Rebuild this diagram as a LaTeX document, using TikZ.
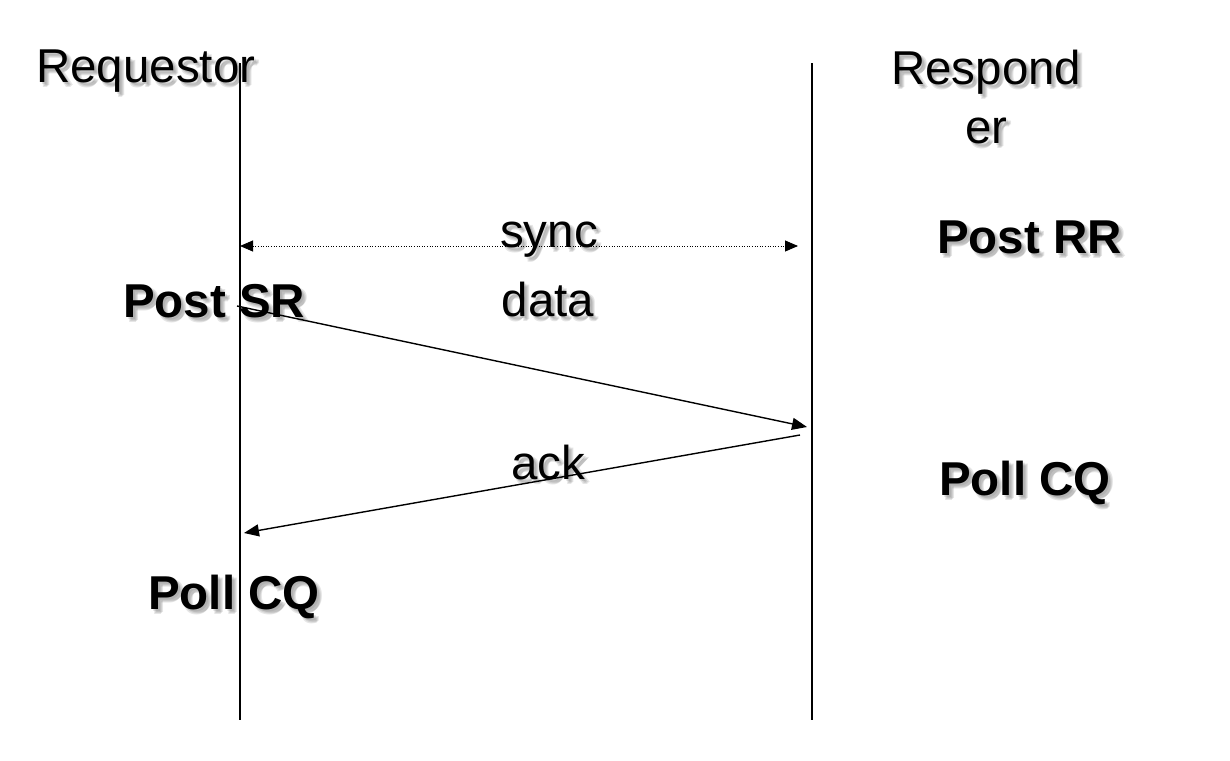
\documentclass[tikz,border=0pt]{standalone}
\usepackage{fontspec}
\setmainfont{Liberation Sans}
\usetikzlibrary{arrows.meta,calc}
\tikzset{
  lbl/.style={anchor=base west,inner sep=0pt,font=\fontsize{47.5}{50}\selectfont},
  lblc/.style={anchor=base,inner sep=0pt,font=\fontsize{47.5}{50}\selectfont},
  bold/.style={font=\fontsize{47.5}{50}\selectfont\bfseries},
  shadowtxt/.style={text=black!55,text opacity=0.18},
  lifeline/.style={line width=1.3pt,black},
  msg/.style={line width=1.4pt,-{Triangle[length=15pt,width=12pt]}},
  syncmsg/.style={line width=0.9pt,dash pattern=on 1pt off 1.6pt,{Triangle[length=13pt,width=11pt]}-{Triangle[length=13pt,width=11pt]}}
}
\newcommand\shlabel[4]{% name, style, position, text
  \node[#2,shadowtxt] at ($(#3)+(2,2)$) {#4};
  \node[#2,shadowtxt] at ($(#3)+(4,4)$) {#4};
  \node[#2,shadowtxt] at ($(#3)+(3,5)$) {#4};
  \node[#2,shadowtxt] at ($(#3)+(5,3)$) {#4};
  \node[#2] (#1) at (#3) {#4};}
\begin{document}
\begin{tikzpicture}[x=1pt,y=-1pt]
\useasboundingbox (0,0) rectangle (1230,760);
% text labels with soft shadows
\shlabel{req}{lbl}{36,82}{Requestor}
\shlabel{res1}{lbl}{891,84}{Respond}
\shlabel{res2}{lbl}{965,143}{er}
\shlabel{sync}{lblc}{549,247}{sync}
\shlabel{data}{lblc}{548,316}{data}
\shlabel{ack}{lblc}{548,479}{ack}
\shlabel{postsr}{lbl,bold}{123,317}{Post SR}
\shlabel{postrr}{lbl,bold}{937,253}{Post RR}
\shlabel{pollr}{lbl,bold}{939,495}{Poll CQ}
\shlabel{polll}{lbl,bold}{148,609}{Poll CQ}
% lifelines
\coordinate (reqTop) at (240,63);
\coordinate (reqBot) at (240,720);
\coordinate (resTop) at (812,63);
\coordinate (resBot) at (812,720);
\draw[lifeline] (reqTop) -- (reqBot);
\draw[lifeline] (resTop) -- (resBot);
% messages
\coordinate (syncL) at (240,246);
\coordinate (syncR) at (798,246);
\coordinate (dataS) at (237,306);
\coordinate (dataE) at (807,427);
\coordinate (ackS) at (800,435);
\coordinate (ackE) at (244,533);
\draw[syncmsg] (syncL) -- (syncR);
\draw[msg] (dataS) -- (dataE);
\draw[msg] (ackS) -- (ackE);
\end{tikzpicture}
\end{document}
